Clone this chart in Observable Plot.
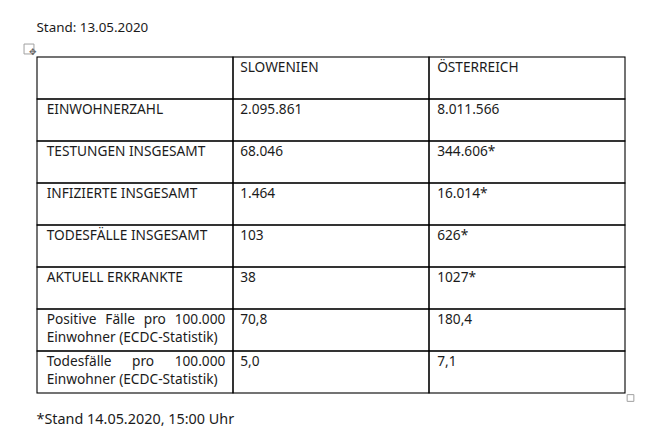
<!DOCTYPE html>
<html>
<head>
<meta charset="utf-8">
<script src="https://cdn.jsdelivr.net/npm/d3@7"></script>
<script src="https://cdn.jsdelivr.net/npm/@observablehq/plot@0.6"></script>
<style>
  html, body { margin: 0; padding: 0; background: #fff; }
  #chart { width: 669px; height: 445px; }
</style>
</head>
<body>
<div id="chart"></div>
<script>
const standText = "Stand: 13.05.2020";
const footnote = "*Stand 14.05.2020, 15:00 Uhr";
const columns = ["", "SLOWENIEN", "ÖSTERREICH"];
const rowLabels = [
  "EINWOHNERZAHL",
  "TESTUNGEN INSGESAMT",
  "INFIZIERTE INSGESAMT",
  "TODESFÄLLE INSGESAMT",
  "AKTUELL ERKRANKTE",
  "Positive Fälle pro 100.000\nEinwohner (ECDC-Statistik)",
  "Todesfälle pro 100.000\nEinwohner (ECDC-Statistik)"
];
const slowenien = ["2.095.861", "68.046", "1.464", "103", "38", "70,8", "5,0"];
const oesterreich = ["8.011.566", "344.606*", "16.014*", "626*", "1027*", "180,4", "7,1"];

// Build the table of cells
const rows = d3.range(rowLabels.length + 1);
const cells = [];
columns.forEach((c, ci) => cells.push({col: ci, row: 0, text: c}));
rowLabels.forEach((lab, i) => {
  cells.push({col: 0, row: i + 1, text: lab});
  cells.push({col: 1, row: i + 1, text: slowenien[i]});
  cells.push({col: 2, row: i + 1, text: oesterreich[i]});
});

const W = 669, H = 445;
const mL = 35.5, mR = 43.5, mT = 56.5, mB = 51.5;
const colW = (W - mL - mR) / columns.length;
const rowH = (H - mT - mB) / rows.length;
const padX = [9.5, 7, 8];
const font = "'Noto Sans', sans-serif";
const ink = "#1b1b1b";

const plot = Plot.plot({
  width: W, height: H,
  marginLeft: mL, marginRight: mR, marginTop: mT, marginBottom: mB,
  style: {fontFamily: font, background: "#fff"},
  x: {type: "band", domain: d3.range(columns.length), padding: 0, axis: null},
  y: {type: "band", domain: rows, padding: 0, axis: null},
  marks: [
    Plot.cell(cells, {x: "col", y: "row", fill: "none", stroke: "#000", strokeWidth: 1.1}),
    ...[0, 1, 2].map(ci => Plot.text(cells.filter(d => d.col === ci), {
      x: "col", y: "row", text: "text",
      textAnchor: "start", lineAnchor: "top",
      dx: -colW / 2 + padX[ci], dy: -rowH / 2 + 2.2,
      fontSize: 13.7, lineHeight: 1.3, fill: ink
    })),
    Plot.text([standText], {frameAnchor: "top-left", text: d => d, textAnchor: "start", lineAnchor: "top",
      dx: 0.5, dy: -mT + 22, fontSize: 13.4, fill: ink}),
    Plot.text([footnote], {frameAnchor: "bottom-left", text: d => d, textAnchor: "start", lineAnchor: "top",
      dx: 0.5, dy: 20, fontSize: 14.4, fill: ink}),
    Plot.dot([0], {frameAnchor: "top-left", symbol: "square", r: 5.6, stroke: "#a0a0a0", fill: "#fff", strokeWidth: 1, dx: -7, dy: -8}),
    Plot.text(["✥"], {frameAnchor: "top-left", text: d => d, dx: -7, dy: -8, fontSize: 9, fontFamily: "DejaVu Sans", fill: "#666"}),
    Plot.dot([0], {frameAnchor: "bottom-right", symbol: "square", r: 3.8, stroke: "#a0a0a0", fill: "#fff", strokeWidth: 1, dx: 4.5, dy: 4})
  ]
});
document.getElementById("chart").appendChild(plot);

// Justify first line of the multi-line labels (as in the source document)
const targetWidth = colW - 2 * padX[0] + 1;
plot.querySelectorAll("text").forEach(t => {
  const spans = t.querySelectorAll("tspan");
  if (spans.length === 2) {
    const first = spans[0];
    const L = first.getComputedTextLength();
    const n = (first.textContent.match(/ /g) || []).length;
    if (n > 0 && L < targetWidth) first.style.wordSpacing = ((targetWidth - L) / n) + "px";
  }
});
</script>
</body>
</html>
